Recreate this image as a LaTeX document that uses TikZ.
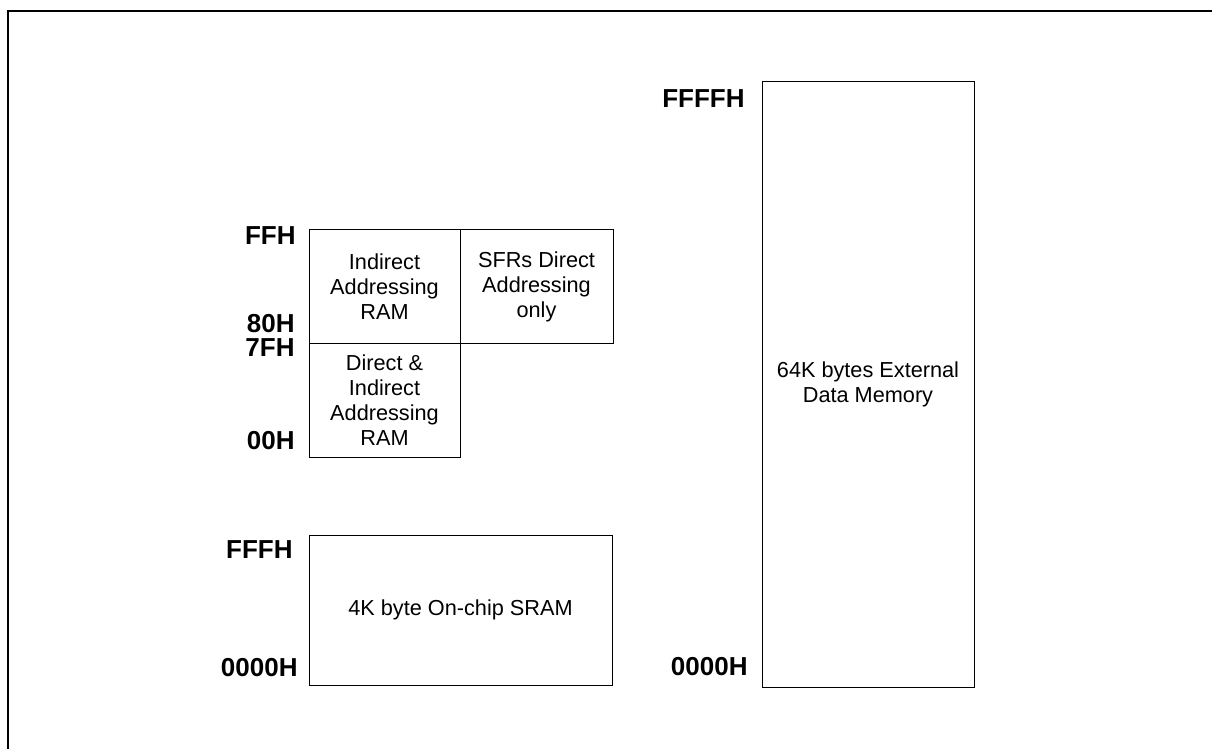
\documentclass[tikz,border=0pt]{standalone}
\usepackage{fontspec}
\setmainfont{Liberation Sans}
\usetikzlibrary{positioning}

\begin{document}
\begin{tikzpicture}[
  x=0.5pt,y=-0.5pt,
  every node/.style={align=center},
  membox/.style={draw,line width=0.5pt,inner sep=0pt,outer sep=0pt,
    font=\fontsize{10.85}{12.5}\selectfont},
  addr/.style={inner sep=0pt,font=\bfseries\fontsize{13}{13}\selectfont},
  frame/.style={line width=1pt}
]
  \useasboundingbox (0,0) rectangle (1212,749);
  \draw[frame] (8,760) -- (8,11) -- (1220,11);

  % internal data RAM
  \node[membox,anchor=north west,minimum width=75.5pt,minimum height=56.5pt]
    (indirect) at (309,230) {Indirect\\Addressing\\RAM};
  \node[membox,right=0pt of indirect,minimum width=76.5pt,minimum height=56.5pt]
    (sfr) {SFRs Direct\\Addressing\\only};
  \node[membox,below=0pt of indirect,minimum width=75.5pt,minimum height=57pt]
    (direct) {Direct \&\\Indirect\\Addressing\\RAM};

  % on-chip and external memory
  \node[membox,anchor=north west,minimum width=151.5pt,minimum height=75pt]
    (sram) at (309,535) {4K byte On-chip SRAM};
  \node[membox,anchor=north west,minimum width=106pt,minimum height=302.5pt]
    (ext) at (762,82) {64K bytes External\\Data Memory};

  % addresses
  \node[addr,left=6.5pt of indirect.north west,yshift=-3pt] (ffh) {FFH};
  \node[addr,left=7pt of indirect.south west,yshift=9.5pt] (h80) {80H};
  \node[addr,left=7pt of indirect.south west,yshift=-2.5pt] (h7f) {7FH};
  \node[addr,left=7pt of direct.south west,yshift=8pt] (h00) {00H};
  \node[addr,left=8pt of sram.north west,yshift=-7.5pt] (fffh) {FFFH};
  \node[addr,left=5.5pt of sram.south west,yshift=8.5pt] (sramlow) {0000H};
  \node[addr,left=8.5pt of ext.north west,yshift=-8.2pt] (ffffh) {FFFFH};
  \node[addr,left=7pt of ext.south west,yshift=10pt] (extlow) {0000H};
\end{tikzpicture}
\end{document}
